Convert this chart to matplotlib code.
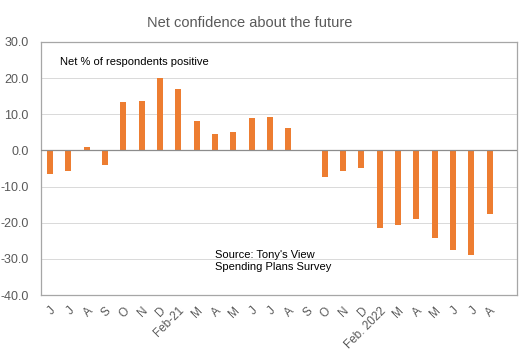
import matplotlib
matplotlib.use('Agg')
import matplotlib.pyplot as plt
import numpy as np

plt.rcParams['font.family'] = ['Liberation Sans', 'DejaVu Sans']

months = ["J", "J", "A", "S", "O", "N", "D", "Feb-21", "M", "A", "M", "J", "J",
          "A", "S", "O", "N", "D", "Feb. 2022", "M", "A", "M", "J", "J", "A", ""]
net_positive = [-6.5, -5.6, 0.9, -4.0, 13.3, 13.8, 20.1, 16.9, 8.2, 4.5, 5.1, 8.9, 9.2,
                6.2, np.nan, -7.3, -5.8, -4.8, -21.5, -20.6, -19.0, -24.1, -27.6, -29.0,
                -17.7, np.nan]

orange = "#ED7D31"
grey_txt = "#595959"

fig = plt.figure(figsize=(5.25, 3.5), dpi=100)
ax = fig.add_axes([0.078, 0.157, 0.907, 0.723])

x = np.arange(len(months))
ax.bar(x, net_positive, width=0.33, color=orange, zorder=3)

ax.set_xlim(-0.5, len(months) - 0.5)
ax.set_ylim(-40, 30)
ax.set_yticks(np.arange(-40, 31, 10))
ax.set_yticklabels([f"{v:.1f}" for v in np.arange(-40, 31, 10)])
ax.grid(axis='y', color="#D9D9D9", linewidth=0.7, zorder=0)
ax.axhline(0, color="#8C8C8C", linewidth=0.9, zorder=4)

ax.set_xticks(x)
ax.set_xticklabels(months, rotation=45, ha='right', rotation_mode='anchor')
ax.tick_params(axis='x', length=0, pad=7, labelsize=8.5, labelcolor=grey_txt)
ax.tick_params(axis='y', length=0, pad=9, labelsize=9, labelcolor=grey_txt)

for s in ax.spines.values():
    s.set_color("#A6A6A6")
    s.set_linewidth(0.9)

fig.text(0.475, 0.935, "Net confidence about the future", ha='center', va='center',
         fontsize=10.5, color=grey_txt)
ax.text(0.04, 0.92, "Net % of respondents positive", transform=ax.transAxes,
        ha='left', va='center', fontsize=8, color="black")
ax.text(0.365, 0.135, "Source: Tony's View\nSpending Plans Survey", transform=ax.transAxes,
        ha='left', va='center', fontsize=8, color="black", linespacing=1.3)

plt.savefig("out.png", dpi=100)
